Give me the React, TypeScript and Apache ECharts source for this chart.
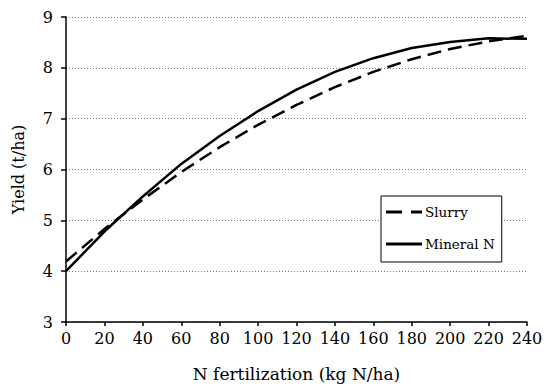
import React, { useEffect, useRef } from "react";
import * as echarts from "echarts";

const nRates = [0, 20, 40, 60, 80, 100, 120, 140, 160, 180, 200, 220, 240];
const slurryYield = [4.19, 4.83, 5.41, 5.95, 6.44, 6.88, 7.27, 7.62, 7.92, 8.17, 8.37, 8.52, 8.63];
const mineralYield = [4.0, 4.78, 5.47, 6.11, 6.66, 7.15, 7.57, 7.92, 8.19, 8.39, 8.51, 8.58, 8.57];
const seriesNames = ["Slurry", "Mineral N"];

const FONT = "DejaVu Serif";

export default function App() {
  const ref = useRef<HTMLDivElement>(null);
  useEffect(() => {
    if (!ref.current) return;
    const chart = echarts.init(ref.current, undefined, { renderer: "svg" });
    const toPairs = (vals: number[]) => nRates.map((x, i) => [x, vals[i]]);
    chart.setOption({
      animation: false,
      backgroundColor: "#ffffff",
      textStyle: { fontFamily: FONT, color: "#000" },
      grid: { left: 66, right: 21, top: 17, bottom: 61, containLabel: false },
      legend: {
        orient: "vertical",
        left: 381,
        top: 196,
        padding: [8, 7, 10, 5],
        itemGap: 16,
        itemWidth: 36,
        itemHeight: 3,
        borderColor: "#000",
        borderWidth: 1,
        backgroundColor: "#fff",
        data: [
          { name: seriesNames[0], icon: "path://M0,0h16v3h-16zM25,0h11v3h-11z" },
          { name: seriesNames[1], icon: "path://M0,0h36v3h-36z" },
        ],
        itemStyle: { color: "#000", borderWidth: 0 },
        textStyle: { fontFamily: FONT, fontSize: 13.5, color: "#000", lineHeight: 16, padding: [0, 0, 0, -2] },
      },
      xAxis: {
        type: "value",
        min: 0,
        max: 240,
        interval: 20,
        name: "N fertilization (kg N/ha)",
        nameLocation: "middle",
        nameGap: 43,
        nameTextStyle: { fontFamily: FONT, fontSize: 17, color: "#000" },
        axisLine: { show: true, lineStyle: { color: "#000", width: 1.5 } },
        axisTick: { show: true, inside: false, length: 4, lineStyle: { color: "#000", width: 1.5 } },
        axisLabel: { fontFamily: FONT, fontSize: 16, color: "#000", margin: 8 },
        splitLine: { show: false },
      },
      yAxis: {
        type: "value",
        min: 3,
        max: 9,
        interval: 1,
        name: "Yield (t/ha)",
        nameLocation: "middle",
        nameGap: 40,
        nameTextStyle: { fontFamily: FONT, fontSize: 16, color: "#000" },
        axisLine: { show: true, lineStyle: { color: "#000", width: 1.5 } },
        axisTick: { show: true, inside: false, length: 5, lineStyle: { color: "#000", width: 1.5 } },
        axisLabel: { fontFamily: FONT, fontSize: 16, color: "#000", margin: 13 },
        splitLine: { show: true, lineStyle: { color: "#777", width: 1, type: [1, 2] } },
      },
      series: [
        {
          name: seriesNames[0],
          type: "line",
          data: toPairs(slurryYield),
          symbol: "none",
          smooth: false,
          lineStyle: { color: "#000", width: 2.5, type: [14, 7] },
          itemStyle: { color: "#000" },
        },
        {
          name: seriesNames[1],
          type: "line",
          data: toPairs(mineralYield),
          symbol: "none",
          smooth: false,
          lineStyle: { color: "#000", width: 2.5, type: "solid" },
          itemStyle: { color: "#000" },
        },
      ],
    });
    return () => chart.dispose();
  }, []);
  return (
    <div
      ref={ref}
      style={{ position: "fixed", left: 0, top: 0, width: 548, height: 387, background: "#fff" }}
    />
  );
}
